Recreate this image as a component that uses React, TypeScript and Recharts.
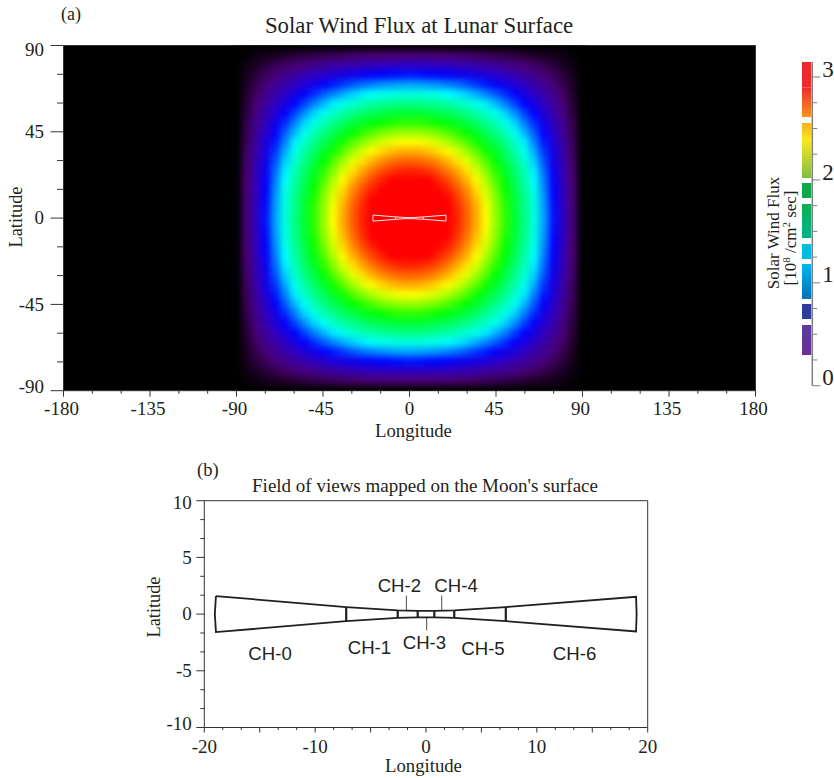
import React from 'react';
import {
  BarChart,
  Bar,
  ScatterChart,
  Scatter,
  XAxis,
  YAxis,
  CartesianGrid
} from 'recharts';

const INK = '#231f20';
const SERIF = '"Liberation Serif", "Times New Roman", serif';
const SANS = '"Liberation Sans", Arial, sans-serif';

// flux (10^8 /cm2 sec), one quadrant: rows |lat| 0..90, columns |lon| 0..90, 5 deg steps
const fluxGridStep = 5;
const fluxQuadrant = [
  [3.0, 2.99, 2.95, 2.9, 2.82, 2.72, 2.6, 2.46, 2.3, 2.12, 1.93, 1.72, 1.5, 1.27, 1.03, 0.78, 0.52, 0.26, 0],
  [2.99, 2.98, 2.94, 2.89, 2.81, 2.71, 2.59, 2.45, 2.29, 2.11, 1.92, 1.71, 1.49, 1.26, 1.02, 0.77, 0.52, 0.26, 0],
  [2.95, 2.94, 2.91, 2.85, 2.78, 2.68, 2.56, 2.42, 2.26, 2.09, 1.9, 1.7, 1.48, 1.25, 1.01, 0.76, 0.51, 0.26, 0],
  [2.9, 2.89, 2.85, 2.8, 2.72, 2.63, 2.51, 2.37, 2.22, 2.05, 1.86, 1.66, 1.45, 1.23, 0.99, 0.75, 0.5, 0.25, 0],
  [2.82, 2.81, 2.78, 2.72, 2.65, 2.55, 2.44, 2.31, 2.16, 1.99, 1.81, 1.62, 1.41, 1.19, 0.96, 0.73, 0.49, 0.25, 0],
  [2.72, 2.71, 2.68, 2.63, 2.55, 2.46, 2.35, 2.23, 2.08, 1.92, 1.75, 1.56, 1.36, 1.15, 0.93, 0.7, 0.47, 0.24, 0],
  [2.6, 2.59, 2.56, 2.51, 2.44, 2.35, 2.25, 2.13, 1.99, 1.84, 1.67, 1.49, 1.3, 1.1, 0.89, 0.67, 0.45, 0.23, 0],
  [2.46, 2.45, 2.42, 2.37, 2.31, 2.23, 2.13, 2.01, 1.88, 1.74, 1.58, 1.41, 1.23, 1.04, 0.84, 0.64, 0.43, 0.21, 0],
  [2.3, 2.29, 2.26, 2.22, 2.16, 2.08, 1.99, 1.88, 1.76, 1.62, 1.48, 1.32, 1.15, 0.97, 0.79, 0.6, 0.4, 0.2, 0],
  [2.12, 2.11, 2.09, 2.05, 1.99, 1.92, 1.84, 1.74, 1.62, 1.5, 1.36, 1.22, 1.06, 0.9, 0.73, 0.55, 0.37, 0.18, 0],
  [1.93, 1.92, 1.9, 1.86, 1.81, 1.75, 1.67, 1.58, 1.48, 1.36, 1.24, 1.11, 0.96, 0.82, 0.66, 0.5, 0.34, 0.17, 0],
  [1.72, 1.71, 1.7, 1.66, 1.62, 1.56, 1.49, 1.41, 1.32, 1.22, 1.11, 0.99, 0.86, 0.73, 0.59, 0.45, 0.3, 0.15, 0],
  [1.5, 1.49, 1.48, 1.45, 1.41, 1.36, 1.3, 1.23, 1.15, 1.06, 0.96, 0.86, 0.75, 0.63, 0.51, 0.39, 0.26, 0.13, 0],
  [1.27, 1.26, 1.25, 1.23, 1.19, 1.15, 1.1, 1.04, 0.97, 0.9, 0.82, 0.73, 0.63, 0.54, 0.43, 0.33, 0.22, 0.11, 0],
  [1.03, 1.02, 1.01, 0.99, 0.96, 0.93, 0.89, 0.84, 0.79, 0.73, 0.66, 0.59, 0.51, 0.43, 0.35, 0.27, 0.18, 0.09, 0],
  [0.78, 0.77, 0.76, 0.75, 0.73, 0.7, 0.67, 0.64, 0.6, 0.55, 0.5, 0.45, 0.39, 0.33, 0.27, 0.2, 0.14, 0.07, 0],
  [0.52, 0.52, 0.51, 0.5, 0.49, 0.47, 0.45, 0.43, 0.4, 0.37, 0.34, 0.3, 0.26, 0.22, 0.18, 0.14, 0.09, 0.05, 0],
  [0.26, 0.26, 0.26, 0.25, 0.25, 0.24, 0.23, 0.21, 0.2, 0.18, 0.17, 0.15, 0.13, 0.11, 0.09, 0.07, 0.05, 0.02, 0],
  [0, 0, 0, 0, 0, 0, 0, 0, 0, 0, 0, 0, 0, 0, 0, 0, 0, 0, 0]
];

// flux -> rainbow of the map
const mapStopValues = [0, 0.1, 0.25, 0.5, 0.75, 1.18, 1.85, 2.3, 2.78, 3.0];
const mapStopColors = [
  [0, 0, 0],
  [30, 0, 40],
  [75, 0, 115],
  [50, 0, 190],
  [0, 0, 255],
  [0, 255, 255],
  [0, 255, 0],
  [255, 255, 0],
  [255, 0, 0],
  [255, 0, 0]
];

// field of view outline, degrees
const fovOutlineLon = [-18.95, -19.05, -18.95, -7.2, -2.55, -0.75, 0.75, 2.55, 7.2, 18.95, 19.0, 18.95, 7.2, 2.55, 0.75, -0.75, -2.55, -7.2, -18.95];
const fovOutlineLat = [1.59, 0, -1.59, -0.62, -0.33, -0.28, -0.28, -0.33, -0.62, -1.53, 0, 1.53, 0.62, 0.33, 0.28, 0.28, 0.33, 0.62, 1.59];
const fovDividerLon = [-7.2, -2.55, -0.75, 0.75, 2.55, 7.2];
const fovDividerHalf = [0.62, 0.33, 0.28, 0.28, 0.33, 0.62];
const leaderLon = [-1.77, 0.06, 1.42];
const leaderFrom = [0.33, -0.3, 0.3];
const leaderTo = [1.63, -1.44, 1.63];
const channelNames = ['CH-0', 'CH-1', 'CH-2', 'CH-3', 'CH-4', 'CH-5', 'CH-6'];
const channelLon = [-14.07, -5.1, -2.4, -0.14, 2.71, 5.14, 13.4];
const channelLat = [-3.54, -3.0, 2.5, -2.56, 2.5, -3.1, -3.54];

// colour bar bands, bottom to top; null colours are the white gaps
const bandHeights = [0.298, 0.292, 0.058, 0.146, 0.049, 0.34, 0.048, 0.146, 0.058, 0.331, 0.058, 0.146, 0.048, 0.37, 0.165, 0.058, 0.289, 0.246];
const bandBottomColors = [null, '#6a2f95', null, '#2e3d9c', null, '#0072bc', null, '#00bcdf', null, '#00b48d', null, '#0ca94b', null, '#7dbf42', '#fbe81f', null, '#f7941e', '#ee2a2e'];
const bandTopColors = [null, '#5c3b9b', null, '#2e3d9c', null, '#00b6ed', null, '#00bcdf', null, '#0bb04f', null, '#0ca94b', null, '#fbe81f', '#fbb01f', null, '#ee2a2e', '#ee2a2e'];

// ticks
const mapLonTicks = [-180, -165, -150, -135, -120, -105, -90, -75, -60, -45, -30, -15, 0, 15, 30, 45, 60, 75, 90, 105, 120, 135, 150, 165, 180];
const mapLonMajor = [-180, -135, -90, -45, 0, 45, 90, 135, 180];
const mapLatTicks = [-90, -75, -60, -45, -30, -15, 0, 15, 30, 45, 60, 75, 90];
const mapLatMajor = [-90, -45, 0, 45, 90];
const fovLonTicks = [-20, -18.333, -16.667, -15, -13.333, -11.667, -10, -8.333, -6.667, -5, -3.333, -1.667, 0, 1.667, 3.333, 5, 6.667, 8.333, 10, 11.667, 13.333, 15, 16.667, 18.333, 20];
const fovLonMajor = [-20, -15, -10, -5, 0, 5, 10, 15, 20];
const fovLonLabelled = [-20, -10, 0, 10, 20];
const fovLatTicks = [-10, -8.333, -6.667, -5, -3.333, -1.667, 0, 1.667, 3.333, 5, 6.667, 8.333, 10];
const fovLatMajor = [-10, -5, 0, 5, 10];
const barTicks = [0, 0.25, 0.5, 0.75, 1, 1.25, 1.5, 1.75, 2, 2.25, 2.5, 2.75, 3];
const barMajor = [0, 1, 2, 3];

const fluxColor = (v: number) => {
  let i = 0;
  while (i < mapStopValues.length - 2 && v > mapStopValues[i + 1]) i++;
  const t = Math.min(1, (v - mapStopValues[i]) / (mapStopValues[i + 1] - mapStopValues[i]));
  const a = mapStopColors[i];
  const b = mapStopColors[i + 1];
  return `rgb(${a.map((c, k) => Math.round(c + (b[k] - c) * t)).join(',')})`;
};

const fluxCells: { lon: number; lat: number; flux: number }[] = [];
const signedSteps = fluxQuadrant.flatMap((_, i) => (i === 0 ? [0] : [-i, i]));
signedSteps.forEach((r) =>
  signedSteps.forEach((c) =>
    fluxCells.push({
      lon: c * fluxGridStep,
      lat: r * fluxGridStep,
      flux: fluxQuadrant[Math.abs(r)][Math.abs(c)]
    })
  )
);

const fovOutline = fovOutlineLon.map((lon, i) => ({ lon, lat: fovOutlineLat[i] }));
const fovDividers = fovDividerLon.map((lon, i) => [
  { lon, lat: fovDividerHalf[i] },
  { lon, lat: -fovDividerHalf[i] }
]);
const leaders = leaderLon.map((lon, i) => [
  { lon, lat: leaderFrom[i] },
  { lon, lat: leaderTo[i] }
]);
const channels = channelNames.map((name, i) => ({ name, lon: channelLon[i], lat: channelLat[i] }));

const barRow: Record<string, number | string> = { band: 'flux' };
bandHeights.forEach((h, i) => {
  barRow[`b${i}`] = h;
});

type TickConfig = {
  side: 'left' | 'right' | 'top' | 'bottom';
  major: number[];
  majorLen: number;
  minorLen: number;
  stroke?: string;
  labels?: number[];
  gap?: number;
  size?: number;
  dx?: (v: number) => number;
  dy?: (v: number) => number;
};

// recharts has no minor ticks, so the tick line is drawn here
const makeTick = (cfg: TickConfig) => (props: any) => {
  const { x, y, payload } = props;
  const v = payload.value;
  const len = cfg.major.includes(v) ? cfg.majorLen : cfg.minorLen;
  const stroke = cfg.stroke || '#333';
  const size = cfg.size || 19;
  const gap = cfg.gap || 0;
  const dx = cfg.dx ? cfg.dx(v) : 0;
  const dy = cfg.dy ? cfg.dy(v) : 0;
  const horizontal = cfg.side === 'left' || cfg.side === 'right';
  const sign = cfg.side === 'left' || cfg.side === 'top' ? -1 : 1;
  return (
    <g>
      <line
        x1={x}
        y1={y}
        x2={horizontal ? x + sign * len : x}
        y2={horizontal ? y : y + sign * len}
        stroke={stroke}
        strokeWidth={1}
      />
      {cfg.labels && cfg.labels.includes(v) && (
        <text
          x={(horizontal ? x + sign * gap : x) + dx}
          y={(horizontal ? y : y + sign * gap) + dy + size * 0.33}
          textAnchor={cfg.side === 'left' ? 'end' : cfg.side === 'right' ? 'start' : 'middle'}
          fontFamily={SERIF}
          fontSize={size}
          fill={INK}
        >
          {v}
        </text>
      )}
    </g>
  );
};

const noMark = () => null;

// cells on the lat = +-90 rows only draw their half inside the plot
const FluxCell = (props: any) => {
  const { cx, cy, payload } = props;
  const top = payload.lat === 90 ? cy : cy - 5.3;
  const bottom = payload.lat === -90 ? cy : cy + 5.3;
  return (
    <rect x={cx - 5.3} y={top} width={10.6} height={bottom - top} fill={fluxColor(payload.flux)} />
  );
};

const ChannelName = (props: any) => (
  <text
    x={props.cx}
    y={props.cy + 6}
    textAnchor="middle"
    fontFamily={SANS}
    fontSize={18.6}
    fill={INK}
  >
    {props.payload.name}
  </text>
);

const FovLines = (stroke: string, outlineWidth: number, dividerWidth: number) => [
  <Scatter
    key="outline"
    data={fovOutline}
    line={{ stroke, strokeWidth: outlineWidth }}
    lineType="joint"
    shape={noMark}
    isAnimationActive={false}
  />,
  ...fovDividers.map((d, i) => (
    <Scatter
      key={`divider-${i}`}
      data={d}
      line={{ stroke, strokeWidth: dividerWidth }}
      lineType="joint"
      shape={noMark}
      isAnimationActive={false}
    />
  ))
];

const MapPanel = () => (
  <div style={{ position: 'absolute', left: 0, top: 0 }}>
    <ScatterChart width={834} height={440} margin={{ top: 0, right: 0, bottom: 0, left: 0 }}>
      <CartesianGrid horizontal={false} vertical={false} fill="#000" fillOpacity={1} />
      <XAxis
        dataKey="lon"
        type="number"
        domain={[-180, 180]}
        ticks={mapLonTicks}
        interval={0}
        height={49.3}
        tickSize={0}
        tickMargin={0}
        stroke="#333"
        tick={makeTick({
          side: 'bottom',
          major: mapLonMajor,
          majorLen: 6,
          minorLen: 3,
          labels: mapLonMajor,
          gap: 18.5,
          dx: (v) => (v === 0 ? 0 : -2)
        })}
      />
      <XAxis
        xAxisId="top"
        orientation="top"
        type="number"
        domain={[-180, 180]}
        ticks={mapLonTicks}
        interval={0}
        height={45.5}
        tickSize={0}
        tickMargin={0}
        stroke="#333"
        tick={makeTick({ side: 'top', major: mapLonMajor, majorLen: 6, minorLen: 3 })}
      />
      <YAxis
        dataKey="lat"
        type="number"
        domain={[-90, 90]}
        ticks={mapLatTicks}
        interval={0}
        width={63.5}
        tickSize={0}
        tickMargin={0}
        stroke="#333"
        tick={makeTick({
          side: 'left',
          major: mapLatMajor,
          majorLen: 13,
          minorLen: 6.5,
          labels: mapLatMajor,
          gap: 19.5,
          dy: (v) => (v === 90 ? 4.5 : v === -90 ? -4 : 0)
        })}
      />
      <YAxis
        yAxisId="right"
        orientation="right"
        type="number"
        domain={[-90, 90]}
        ticks={mapLatTicks}
        interval={0}
        width={78.5}
        tickSize={0}
        tickMargin={0}
        stroke="#333"
        tick={makeTick({ side: 'right', major: mapLatMajor, majorLen: 13, minorLen: 6.5 })}
      />
      <Scatter
        className="flux-cells"
        data={fluxCells}
        shape={FluxCell}
        isAnimationActive={false}
      />
      {FovLines('#fff', 0.9, 0.9)}
    </ScatterChart>
  </div>
);

const FovPanel = () => (
  <div style={{ position: 'absolute', left: 0, top: 440 }}>
    <ScatterChart width={834} height={338} margin={{ top: 0, right: 0, bottom: 0, left: 0 }}>
      <XAxis
        dataKey="lon"
        type="number"
        domain={[-20, 20]}
        ticks={fovLonTicks}
        interval={0}
        height={50.5}
        tickSize={0}
        tickMargin={0}
        stroke="#333"
        tick={makeTick({
          side: 'bottom',
          major: fovLonMajor,
          majorLen: 5,
          minorLen: 2.5,
          labels: fovLonLabelled,
          gap: 19
        })}
      />
      <XAxis
        xAxisId="top"
        orientation="top"
        type="number"
        domain={[-20, 20]}
        ticks={fovLonTicks}
        interval={0}
        height={60.7}
        tickSize={0}
        tickMargin={0}
        stroke="#333"
        tick={makeTick({ side: 'top', major: fovLonMajor, majorLen: 4, minorLen: 2 })}
      />
      <YAxis
        dataKey="lat"
        type="number"
        domain={[-10, 10]}
        ticks={fovLatTicks}
        interval={0}
        width={204.3}
        tickSize={0}
        tickMargin={0}
        stroke="#333"
        tick={makeTick({
          side: 'left',
          major: fovLatMajor,
          majorLen: 8,
          minorLen: 4,
          labels: fovLatMajor,
          gap: 12.5,
          dy: (v) => (v === 10 ? 2 : v === -10 ? -4 : 0)
        })}
      />
      <YAxis
        yAxisId="right"
        orientation="right"
        type="number"
        domain={[-10, 10]}
        ticks={fovLatTicks}
        interval={0}
        width={186.3}
        tickSize={0}
        tickMargin={0}
        stroke="#333"
        tick={makeTick({ side: 'right', major: fovLatMajor, majorLen: 9, minorLen: 4.5 })}
      />
      {FovLines(INK, 1.8, 2.2)}
      {leaders.map((d, i) => (
        <Scatter
          key={`leader-${i}`}
          data={d}
          line={{ stroke: INK, strokeWidth: 0.8 }}
          lineType="joint"
          shape={noMark}
          isAnimationActive={false}
        />
      ))}
      <Scatter data={channels} shape={ChannelName} isAnimationActive={false} />
    </ScatterChart>
  </div>
);

const ColorBar = () => (
  <div style={{ position: 'absolute', left: 801, top: 0 }}>
    <BarChart
      width={33}
      height={390}
      data={[barRow]}
      barSize={9.3}
      margin={{ top: 62, right: 0, bottom: 4.3, left: 0 }}
    >
      <defs>
        {bandHeights.map((_, i) =>
          bandTopColors[i] ? (
            <linearGradient key={i} id={`band-${i}`} x1="0" y1="0" x2="0" y2="1">
              <stop offset="0%" stopColor={bandTopColors[i] as string} />
              <stop offset="100%" stopColor={bandBottomColors[i] as string} />
            </linearGradient>
          ) : null
        )}
      </defs>
      <XAxis dataKey="band" hide />
      <YAxis
        orientation="right"
        type="number"
        domain={[0, 3.146]}
        ticks={barTicks}
        interval={0}
        width={21.7}
        tickSize={0}
        tickMargin={0}
        stroke="#808080"
        strokeWidth={1.5}
        tick={makeTick({
          side: 'right',
          major: barMajor,
          majorLen: 8,
          minorLen: 5,
          stroke: '#808080',
          labels: barMajor,
          gap: 10,
          size: 23,
          dy: () => -8
        })}
      />
      {bandHeights.map((_, i) => (
        <Bar
          key={i}
          dataKey={`b${i}`}
          stackId="flux"
          fill={bandTopColors[i] ? `url(#band-${i})` : 'none'}
          isAnimationActive={false}
        />
      ))}
    </BarChart>
  </div>
);

const Titles = () => (
  <svg
    width={834}
    height={778}
    style={{ position: 'absolute', left: 0, top: 0, pointerEvents: 'none' }}
    fontFamily={SERIF}
    fill={INK}
  >
    <defs>
      <filter id="fluxBlur" x="0" y="0" width="100%" height="100%" colorInterpolationFilters="sRGB">
        <feGaussianBlur stdDeviation="3" />
      </filter>
    </defs>
    <text x={61} y={20} fontSize={18}>(a)</text>
    <text x={419} y={33} fontSize={22.8} textAnchor="middle">Solar Wind Flux at Lunar Surface</text>
    <text x={413.5} y={437} fontSize={18.7} textAnchor="middle">Longitude</text>
    <text transform="translate(22 217) rotate(-90)" fontSize={18.3} textAnchor="middle">Latitude</text>
    <text transform="translate(779 233) rotate(-90)" fontSize={17} textAnchor="middle">Solar Wind Flux</text>
    <text transform="translate(796 238) rotate(-90)" fontSize={17} textAnchor="middle">
      [10<tspan dy={-6} fontSize={11}>8</tspan><tspan dy={6}> /cm</tspan><tspan dy={-6} fontSize={11}>2</tspan><tspan dy={6}> sec]</tspan>
    </text>
    <text x={197} y={476} fontSize={18.5}>(b)</text>
    <text x={425} y={492} fontSize={19} textAnchor="middle">Field of views mapped on the Moon's surface</text>
    <text x={423.5} y={772} fontSize={18.7} textAnchor="middle">Longitude</text>
    <text transform="translate(160 607) rotate(-90)" fontSize={18.3} textAnchor="middle">Latitude</text>
  </svg>
);

export default function App() {
  return (
    <div style={{ position: 'absolute', left: 0, top: 0, width: 834, height: 778, overflow: 'hidden', background: '#fff' }}>
      <style>{'.flux-cells{filter:url(#fluxBlur)}'}</style>
      <MapPanel />
      <FovPanel />
      <ColorBar />
      <Titles />
    </div>
  );
}
